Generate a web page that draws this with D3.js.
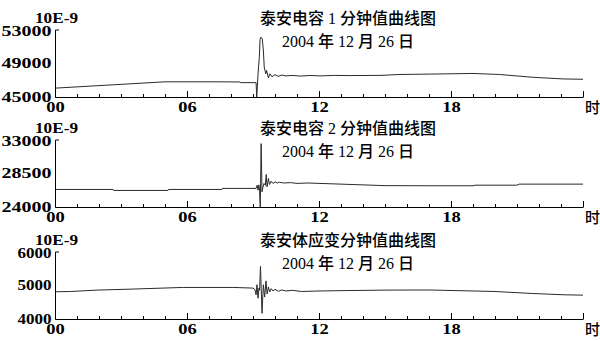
<!DOCTYPE html>
<html>
<head>
<meta charset="utf-8">
<script src="https://cdn.jsdelivr.net/npm/d3@7"></script>
<style>
  body { margin: 0; background: #fff; }
  svg { display: block; }
</style>
</head>
<body>
<div id="chart"></div>
<script>
// values (hour of day, reading in 10E-9)
const cap1Hours = [0, 5.0, 7.5, 8.41, 8.45, 9.14, 9.17, 9.23, 9.29, 9.32, 9.36, 9.42, 9.47, 9.51, 9.58, 9.62, 9.70, 9.77, 9.86, 10.0,
    10.14, 10.32, 10.5, 10.77, 11.14, 11.6, 12.05, 12.7, 13.4, 14.77, 15.68, 17.95, 19.0, 20.2, 21.7, 23.1, 24];
const cap1Values = [46050, 46800, 46800, 46780, 46700, 46700, 45000, 47790, 49760, 51790, 52100, 51900, 50580, 48550, 47750, 48150, 47270, 47750, 47400, 47650,
    47450, 47600, 47500, 47560, 47480, 47550, 47500, 47560, 47540, 47560, 47670, 47750, 47790, 47670, 47340, 47140, 47100];

const cap2Hours = [0, 2.64, 2.66, 5.14, 5.16, 7.59, 7.61, 9.14, 9.19, 9.23, 9.27, 9.30, 9.33, 9.37, 9.41, 9.45, 9.50, 9.56, 9.60, 9.64,
    9.70, 9.75, 9.82, 9.91, 10.0, 10.1, 10.2, 10.4, 10.7, 11.0, 11.5, 12.0, 12.5, 13.0, 14.0, 15.0, 17.0, 19.0, 19.1, 21.0, 21.1, 24];
const cap2Values = [26340, 26340, 26210, 26210, 26340, 26340, 26480, 26480, 26900, 26250, 26950, 26100, 24000, 32450, 26030, 26600, 27140, 26900, 28330, 26690,
    27800, 27000, 27440, 27140, 27350, 27200, 27300, 27200, 27250, 27150, 27200, 27150, 27100, 27050, 26950, 26850, 26830, 26830, 26910, 26910, 27050, 27050];

const strainHours = [0, 0.7, 1.9, 3.5, 5.8, 8.1, 9.0, 9.09, 9.14, 9.18, 9.23, 9.27, 9.30, 9.34, 9.41, 9.47, 9.53, 9.59, 9.64, 9.70,
    9.76, 9.83, 9.91, 10.0, 10.15, 10.3, 10.5, 10.8, 11.2, 12.0, 13.0, 15.0, 17.0, 19.0, 20.0, 21.7, 23.2, 24];
const strainValues = [4806, 4815, 4856, 4886, 4935, 4935, 4916, 4870, 4716, 5015, 4617, 4916, 4850, 5560, 4170, 5015, 4650, 5130, 4740, 4950,
    4800, 4900, 4830, 4880, 4820, 4860, 4830, 4850, 4815, 4830, 4840, 4856, 4860, 4830, 4815, 4756, 4716, 4707];

const titles = ['泰安电容 1 分钟值曲线图', '泰安电容 2 分钟值曲线图', '泰安体应变分钟值曲线图'];
const dateLabel = '2004 年 12 月 26 日';
const unitLabel = '10E-9';
const yTicks1 = [45000, 49000, 53000];
const yTicks2 = [24000, 28500, 33000];
const yTicks3 = [4000, 5000, 6000];
const majorHours = [0, 6, 12, 18, 24];
const xTickLabels = ['00', '06', '12', '18', '时'];

const panels = [
    { title: titles[0], hours: cap1Hours, values: cap1Values, ticks: yTicks1 },
    { title: titles[1], hours: cap2Hours, values: cap2Values, ticks: yTicks2 },
    { title: titles[2], hours: strainHours, values: strainValues, ticks: yTicks3 }
];

// layout
const width = 600, height = 341;
const plotLeft = 55, plotRight = 583;
const panelTops = [29.5, 139.5, 251.5];
const panelHeight = 67.5;
const serif = "'Liberation Serif', serif";
const titleFont = "'Liberation Serif', 'Noto Sans CJK SC', serif";

const svg = d3.select('#chart')
    .append('svg')
    .attr('width', width)
    .attr('height', height);

const x = d3.scaleLinear().domain([0, 24]).range([plotLeft, plotRight]);

panels.forEach((p, i) => {
    const top = panelTops[i];
    const bottom = top + panelHeight;
    const y = d3.scaleLinear()
        .domain([p.ticks[0], p.ticks[p.ticks.length - 1]])
        .range([bottom, top]);

    const g = svg.append('g');

    // curve
    const points = p.hours.map((h, k) => [h, p.values[k]]);
    g.append('path')
        .datum(points)
        .attr('fill', 'none')
        .attr('stroke', '#2a2a2a')
        .attr('stroke-width', 1)
        .attr('d', d3.line().x(d => x(d[0])).y(d => y(d[1])));

    // hourly minor ticks + axis line
    g.append('g')
        .attr('transform', `translate(0,${bottom})`)
        .call(d3.axisBottom(x).tickValues(d3.range(25)).tickSizeInner(-3).tickSizeOuter(0).tickFormat(''));

    // labelled ticks
    const xAxis = g.append('g')
        .attr('transform', `translate(0,${bottom})`)
        .call(d3.axisBottom(x).tickValues(majorHours).tickSizeInner(-6).tickSizeOuter(0).tickPadding(5.5)
            .tickFormat((d, k) => xTickLabels[k]));
    xAxis.select('.domain').remove();
    xAxis.attr('font-family', serif).attr('font-size', 14).attr('font-weight', 'bold');
    xAxis.selectAll('.tick text')
        .filter((d, k) => k < majorHours.length - 1)
        .attr('textLength', 18.5)
        .attr('lengthAdjust', 'spacingAndGlyphs');
    xAxis.selectAll('.tick text')
        .filter((d, k) => k === majorHours.length - 1)
        .attr('text-anchor', 'start')
        .attr('x', 1.5)
        .attr('font-family', "'Noto Sans CJK SC', sans-serif")
        .attr('font-weight', 500)
        .attr('font-size', 15);

    // y axis
    const yAxis = g.append('g')
        .attr('transform', `translate(${plotLeft},0)`)
        .call(d3.axisLeft(y).tickValues(p.ticks).tickSizeInner(0).tickSizeOuter(-4).tickPadding(3.5)
            .tickFormat(d3.format('d')));
    yAxis.attr('font-family', serif).attr('font-size', 14).attr('font-weight', 'bold');
    yAxis.selectAll('.tick text')
        .attr('textLength', d => String(d).length > 4 ? 50 : 34)
        .attr('lengthAdjust', 'spacingAndGlyphs')
        .attr('y', d => d === p.ticks[p.ticks.length - 1] ? 2 : 0);

    // unit
    g.append('text')
        .attr('x', 35)
        .attr('y', top - 6.5)
        .attr('font-family', serif)
        .attr('font-size', 14)
        .attr('font-weight', 'bold')
        .attr('textLength', 43)
        .attr('lengthAdjust', 'spacingAndGlyphs')
        .text(unitLabel);

    // title and date
    g.append('text')
        .attr('x', 348)
        .attr('y', top - 5.5)
        .attr('text-anchor', 'middle')
        .attr('font-family', titleFont)
        .attr('font-size', 16)
        .attr('font-weight', 500)
        .text(p.title);

    g.append('text')
        .attr('x', 348)
        .attr('y', top + 17)
        .attr('text-anchor', 'middle')
        .attr('font-family', titleFont)
        .attr('font-size', 16)
        .attr('font-weight', 500)
        .text(dateLabel);
});
</script>
</body>
</html>
